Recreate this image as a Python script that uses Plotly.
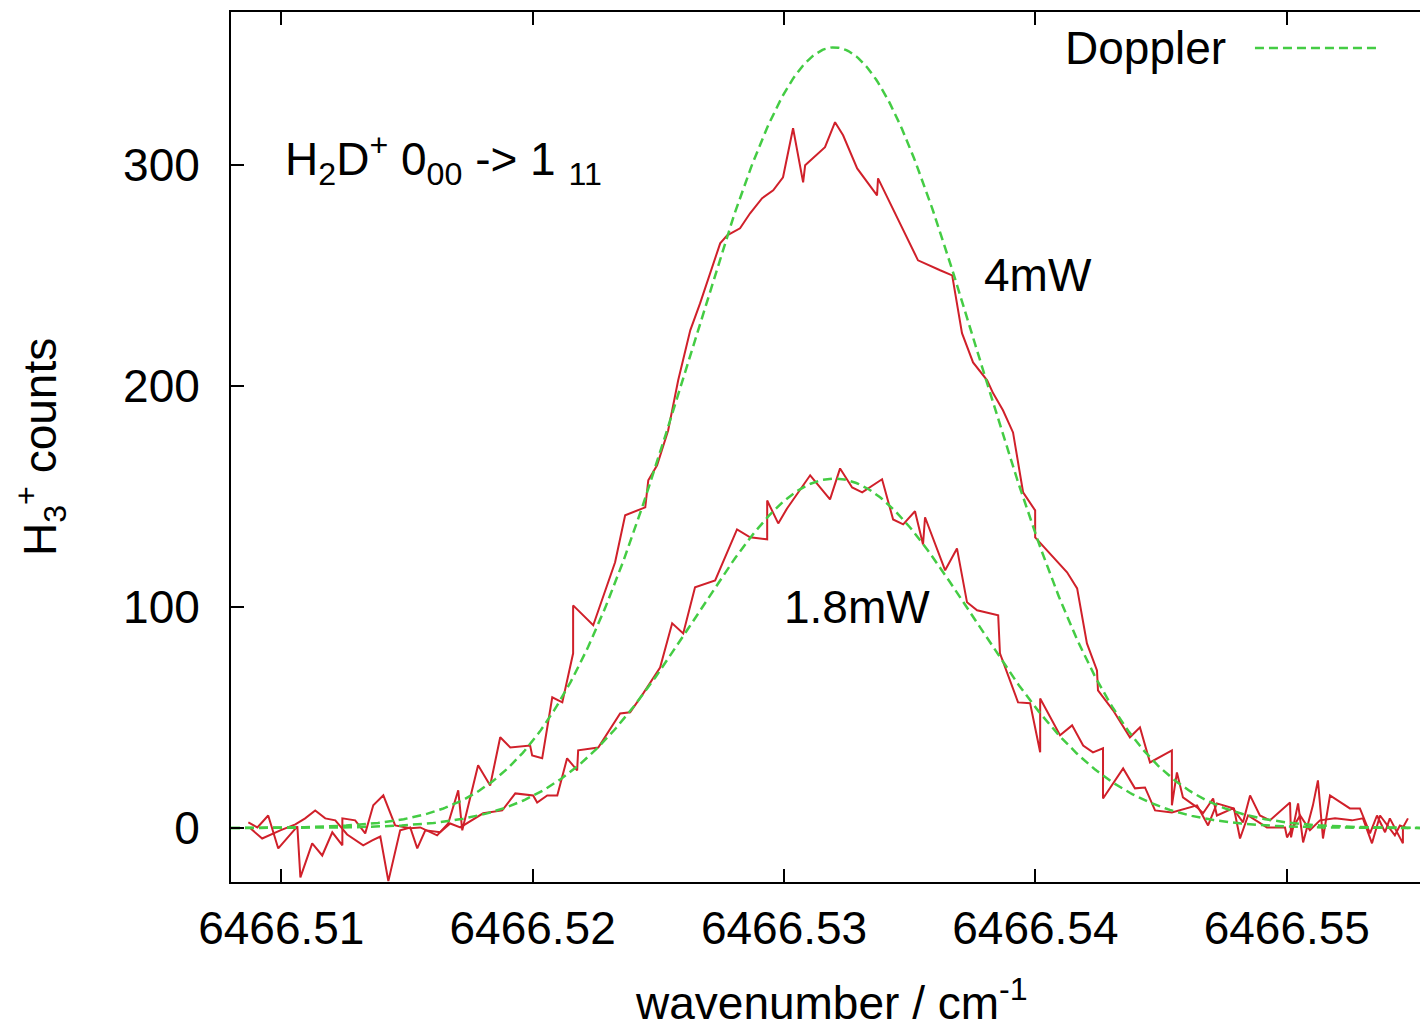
import numpy as np
import plotly.graph_objects as go

# ---- data ----
x_4mw = [6466.50869, 6466.50905, 6466.50948, 6466.50988, 6466.51064, 6466.51076, 6466.51123, 6466.51163,
         6466.51203, 6466.51243, 6466.51243, 6466.51294, 6466.51334, 6466.51366, 6466.51406, 6466.51453,
         6466.51513, 6466.51553, 6466.51620, 6466.51664, 6466.51704, 6466.51720, 6466.51783, 6466.51831,
         6466.51871, 6466.51911, 6466.51990, 6466.51998, 6466.52038, 6466.52078, 6466.52118, 6466.52161,
         6466.52161, 6466.52241, 6466.52328, 6466.52368, 6466.52448, 6466.52460, 6466.52495, 6466.52539,
         6466.52579, 6466.52627, 6466.52666, 6466.52706, 6466.52746, 6466.52774, 6466.52825, 6466.52865,
         6466.52913, 6466.52957, 6466.52996, 6466.53036, 6466.53076, 6466.53084, 6466.53163, 6466.53203,
         6466.53235, 6466.53291, 6466.53370, 6466.53374, 6466.53422, 6466.53502, 6466.53533, 6466.53621,
         6466.53669, 6466.53708, 6466.53752, 6466.53808, 6466.53832, 6466.53871, 6466.53911, 6466.53951,
         6466.53999, 6466.53999, 6466.54046, 6466.54126, 6466.54166, 6466.54205, 6466.54245, 6466.54249,
         6466.54309, 6466.54376, 6466.54416, 6466.54456, 6466.54543, 6466.54543, 6466.54563, 6466.54587,
         6466.54643, 6466.54667, 6466.54707, 6466.54722, 6466.54786, 6466.54826, 6466.54854, 6466.54893,
         6466.54933, 6466.55013, 6466.55017, 6466.55045, 6466.55065, 6466.55104, 6466.55124, 6466.55144,
         6466.55172, 6466.55251, 6466.55291, 6466.55331, 6466.55359, 6466.55391, 6466.55410, 6466.55462,
         6466.55462, 6466.55482]
y_4mw = [2.6, 0.3, 5.7, -9.2, 0.8, -22.3, -6.9, -12.4,
         -1.9, -7.8, 4.4, 3.5, -2.4, 10.3, 14.8, 1.2,
         -0.1, 0.3, -3.3, 2.1, 17.1, -1.0, 28.4, 19.3,
         41.1, 36.5, 37.4, 32.9, 31.6, 59.2, 56.9, 79.1,
         100.8, 91.8, 120.3, 141.6, 145.2, 157.4, 164.2, 180.0,
         202.7, 225.3, 237.5, 251.1, 264.7, 268.3, 271.5, 278.3,
         285.1, 288.7, 294.6, 316.8, 292.3, 300.0, 308.2, 319.5,
         313.6, 298.6, 286.4, 294.1, 282.8, 264.7, 257.0, 252.5,
         250.2, 224.0, 210.8, 202.7, 196.8, 189.1, 179.1, 152.0,
         143.8, 131.6, 125.7, 115.8, 108.5, 83.6, 71.4, 62.3,
         53.3, 41.1, 45.6, 29.7, 35.2, 10.3, 25.2, 13.9,
         9.4, 6.7, 13.4, 5.7, 8.9, 2.6, 14.8, 5.7,
         3.5, 11.6, -4.2, 11.2, -6.5, 10.3, 21.6, -4.7,
         14.8, 8.9, 8.9, -2.4, 5.7, -1.9, 4.4, -6.9,
         0.3, 4.4]

x_18mw = [6466.50877, 6466.50924, 6466.50996, 6466.51056, 6466.51095, 6466.51135, 6466.51175, 6466.51215,
          6466.51262, 6466.51326, 6466.51362, 6466.51394, 6466.51426, 6466.51473, 6466.51513, 6466.51541,
          6466.51573, 6466.51632, 6466.51672, 6466.51712, 6466.51803, 6466.51879, 6466.51931, 6466.52002,
          6466.52018, 6466.52058, 6466.52098, 6466.52137, 6466.52177, 6466.52181, 6466.52261, 6466.52348,
          6466.52388, 6466.52440, 6466.52507, 6466.52555, 6466.52599, 6466.52646, 6466.52726, 6466.52813,
          6466.52865, 6466.52933, 6466.52933, 6466.52977, 6466.53012, 6466.53104, 6466.53183, 6466.53223,
          6466.53271, 6466.53311, 6466.53390, 6466.53434, 6466.53474, 6466.53521, 6466.53553, 6466.53561,
          6466.53641, 6466.53688, 6466.53728, 6466.53768, 6466.53852, 6466.53859, 6466.53931, 6466.53979,
          6466.54019, 6466.54019, 6466.54098, 6466.54146, 6466.54190, 6466.54229, 6466.54269, 6466.54269,
          6466.54349, 6466.54396, 6466.54436, 6466.54476, 6466.54543, 6466.54595, 6466.54643, 6466.54687,
          6466.54722, 6466.54790, 6466.54814, 6466.54846, 6466.54921, 6466.54993, 6466.55001, 6466.55053,
          6466.55092, 6466.55132, 6466.55192, 6466.55259, 6466.55303, 6466.55339, 6466.55371, 6466.55430,
          6466.55450, 6466.55482]
y_18mw = [-0.1, -4.7, -1.0, 1.7, 4.4, 8.0, 4.4, 3.5,
          -2.9, -7.8, -5.6, -3.8, -24.0, -1.0, 0.3, -9.2,
          -1.0, -1.9, 2.1, 0.3, 6.7, 8.0, 15.7, 14.8,
          11.6, 14.8, 14.8, 31.6, 26.1, 35.2, 36.5, 51.9,
          52.4, 61.0, 72.7, 92.7, 88.1, 109.0, 112.1, 135.2,
          131.6, 130.7, 148.3, 137.9, 144.7, 159.7, 148.8, 162.8,
          154.2, 152.0, 157.9, 139.7, 137.5, 143.4, 128.4, 140.7,
          116.7, 126.6, 102.2, 98.6, 96.3, 79.1, 56.9, 56.5,
          34.3, 58.7, 42.0, 46.5, 37.4, 34.3, 36.1, 13.4,
          27.0, 18.0, 18.4, 8.0, 7.1, 8.9, 10.3, 1.2,
          11.2, 8.9, -4.7, 5.7, 0.3, 0.3, -4.2, 5.7,
          -1.0, 3.5, 4.4, 3.5, 4.4, -6.9, 5.7, -3.3,
          1.2, -0.1]

# Doppler (Gaussian) model parameters
doppler_center = 6466.5320
doppler_amp_4mw = 353.4
doppler_sigma_4mw = 0.00573
doppler_amp_18mw = 158.2
doppler_sigma_18mw = 0.00549

x_range = [6466.508, 6466.5553]
y_range = [-24.4, 369.4]
x_ticks = [6466.51, 6466.52, 6466.53, 6466.54, 6466.55]
x_tick_labels = ["6466.51", "6466.52", "6466.53", "6466.54", "6466.55"]
y_ticks = [0, 100, 200, 300]
y_tick_labels = ["0", "100", "200", "300"]

RED = "#d0202a"
GREEN = "#44cc44"
FONT = "Liberation Sans, Arial, Helvetica, sans-serif"
FS = 46

xg = np.linspace(x_range[0], x_range[1], 600)
g_4mw = doppler_amp_4mw * np.exp(-(xg - doppler_center) ** 2 / (2 * doppler_sigma_4mw ** 2))
g_18mw = doppler_amp_18mw * np.exp(-(xg - doppler_center) ** 2 / (2 * doppler_sigma_18mw ** 2))

fig = go.Figure()
fig.add_trace(go.Scatter(x=x_4mw, y=y_4mw, mode="lines", line=dict(color=RED, width=2),
                         showlegend=False, name="4mW"))
fig.add_trace(go.Scatter(x=x_18mw, y=y_18mw, mode="lines", line=dict(color=RED, width=2),
                         showlegend=False, name="1.8mW"))
fig.add_trace(go.Scatter(x=xg, y=g_4mw, mode="lines", line=dict(color=GREEN, width=2.5, dash="9px,5px"),
                         showlegend=False, name="Doppler"))
fig.add_trace(go.Scatter(x=xg, y=g_18mw, mode="lines", line=dict(color=GREEN, width=2.5, dash="9px,5px"),
                         showlegend=False, name="Doppler"))

fig.update_layout(
    width=1420, height=1025,
    margin=dict(l=231, r=0, t=12, b=143),
    paper_bgcolor="white", plot_bgcolor="white",
    font=dict(family=FONT, size=FS, color="black"),
    showlegend=False,
)
fig.update_xaxes(
    range=x_range, tickvals=x_ticks, ticktext=x_tick_labels,
    ticks="inside", ticklen=13, tickwidth=2, tickcolor="black",
    showline=True, linewidth=2, linecolor="black", mirror="ticks",
    showgrid=False, zeroline=False, automargin=False,
    tickfont=dict(family=FONT, size=FS, color="black"),
    ticklabelstandoff=5,
)
fig.update_yaxes(
    range=y_range, tickvals=y_ticks, ticktext=y_tick_labels,
    ticks="inside", ticklen=13, tickwidth=2, tickcolor="black",
    showline=True, linewidth=2, linecolor="black", mirror=False,
    showgrid=False, zeroline=False, automargin=False,
    tickfont=dict(family=FONT, size=FS, color="black"),
    ticklabelstandoff=20,
)

# axis titles
fig.add_annotation(x=0.505, y=-0.1356, xref="paper", yref="paper", xanchor="center", yanchor="middle",
                   text="wavenumber / cm<sup>-1</sup>", showarrow=False,
                   font=dict(family=FONT, size=FS, color="black"))
fig.add_annotation(x=-0.1606, y=0.5, xref="paper", yref="paper", xanchor="center", yanchor="middle",
                   text="H<sub>3</sub><sup>+</sup> counts", showarrow=False, textangle=-90,
                   font=dict(family=FONT, size=FS, color="black"))

# labels
fig.add_annotation(x=6466.51008, y=302.5, xref="x", yref="y", xanchor="left", yanchor="middle",
                   text="H<sub>2</sub>D<sup>+</sup> 0<sub>00</sub> -> 1 <sub>11</sub>", showarrow=False,
                   font=dict(family=FONT, size=FS, color="black"))
fig.add_annotation(x=6466.54011, y=250.2, xref="x", yref="y", xanchor="center", yanchor="middle",
                   text="4mW", showarrow=False, font=dict(family=FONT, size=FS, color="black"))
fig.add_annotation(x=6466.53291, y=100.0, xref="x", yref="y", xanchor="center", yanchor="middle",
                   text="1.8mW", showarrow=False, font=dict(family=FONT, size=FS, color="black"))

# key (gnuplot style: text left, sample right)
fig.add_annotation(x=0.8385, y=0.9586, xref="paper", yref="paper", xanchor="right", yanchor="middle",
                   text="Doppler", showarrow=False, font=dict(family=FONT, size=FS, color="black"))
fig.add_shape(type="line", xref="paper", yref="paper", x0=0.8612, x1=0.9664, y0=0.9586, y1=0.9586,
              line=dict(color=GREEN, width=2.5, dash="9px,5px"))

# remove the default page margin so the figure fills the 1420x1025 window exactly
fig.write_html("out.html", config={"displayModeBar": False},
               post_script="document.body.style.margin='0';document.body.style.overflow='hidden';")
